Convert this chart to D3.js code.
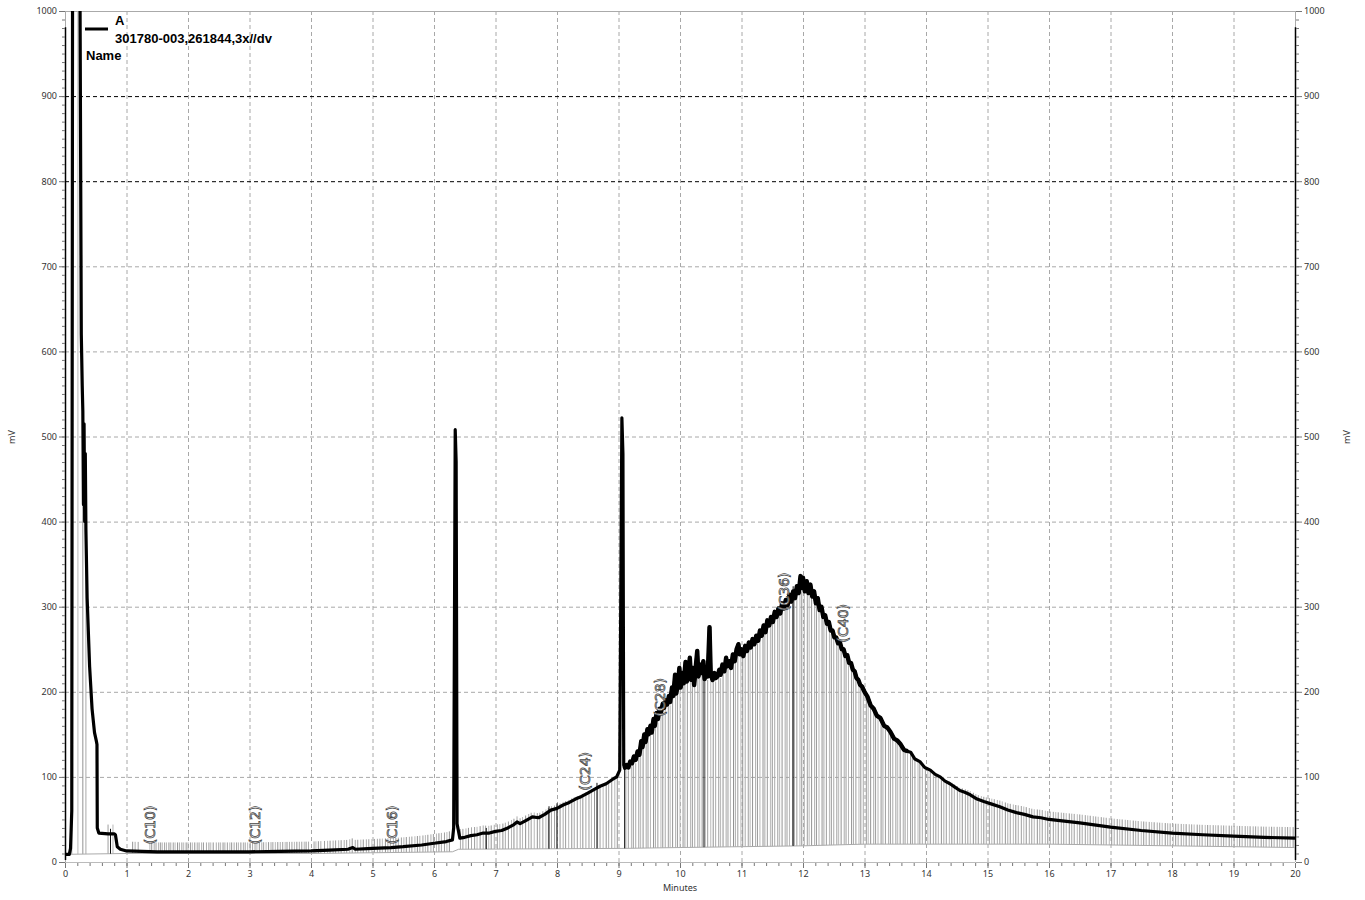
<!DOCTYPE html>
<html lang="en">
  <head>
    <meta charset="UTF-8" />
    <title>Chromatogram 301780-003</title>
    <style>
      body {
        margin: 0;
        background: #fff;
        font-family: "Noto Sans", Arial, sans-serif;
      }
      .tick text {
        font-family: "Noto Sans", Arial, sans-serif;
        font-size: 9px;
        fill: #333;
      }
      .tick line {
        stroke: #777;
      }
      .legend {
        font-family: "Liberation Sans", Arial, sans-serif;
        font-weight: bold;
        font-size: 13px;
        fill: #000;
      }
      .peak-label {
        font-family: "DejaVu Sans", sans-serif;
        font-size: 14px;
        fill: #fff;
        stroke: #444;
        stroke-width: 0.75;
      }
    </style>
  </head>
  <body>
    <div id="chart"></div>
    <script src="https://d3js.org/d3.v7.min.js"></script>
    <script>
      // trace A (minutes, mV)
      const traceT = [
        0, 0.07, 0.09, 0.11, 0.125, 0.135, 0.24, 0.245, 0.265, 0.28, 0.29, 0.3, 0.31,
        0.32, 0.33, 0.34, 0.36, 0.4, 0.44, 0.48, 0.51, 0.52, 0.525, 0.55, 0.7, 0.8,
        0.82, 0.85, 0.9, 1.0, 1.5, 2.0, 2.5, 3.0, 3.5, 4.0, 4.3, 4.6, 4.68, 4.72, 5.0,
        5.3, 5.5, 5.8, 6.0, 6.2, 6.3, 6.32, 6.345, 6.36, 6.375, 6.42, 6.5, 6.6, 6.7,
        6.8, 6.9, 7.0, 7.1, 7.2, 7.3, 7.35, 7.4, 7.5, 7.6, 7.7, 7.8, 7.9, 8.0, 8.1,
        8.2, 8.3, 8.4, 8.5, 8.6, 8.7, 8.8, 8.9, 8.97, 9.02, 9.055, 9.072, 9.085,
        9.1, 9.13, 9.16, 9.19, 9.22, 9.25, 9.28, 9.31, 9.34, 9.37, 9.39, 9.42, 9.44,
        9.47, 9.49, 9.52, 9.54, 9.57, 9.59, 9.62, 9.64, 9.67, 9.69, 9.72, 9.74, 9.77,
        9.79, 9.82, 9.84, 9.87, 9.89, 9.92, 9.94, 9.97, 9.99, 10.01, 10.04, 10.06,
        10.09, 10.11, 10.14, 10.16, 10.18, 10.21, 10.23, 10.26, 10.28, 10.3, 10.33,
        10.35, 10.38, 10.4, 10.43, 10.45, 10.48, 10.5, 10.53, 10.56, 10.58, 10.61,
        10.64, 10.66, 10.69, 10.72, 10.75, 10.77, 10.8, 10.83, 10.86, 10.89, 10.92,
        10.95, 10.97, 11.0, 11.03, 11.06, 11.09, 11.12, 11.15, 11.18, 11.21, 11.24,
        11.27, 11.3, 11.33, 11.36, 11.39, 11.42, 11.45, 11.48, 11.51, 11.54, 11.57,
        11.6, 11.63, 11.66, 11.69, 11.72, 11.75, 11.78, 11.81, 11.84, 11.87, 11.9,
        11.93, 11.96, 11.98, 12.0, 12.03, 12.06, 12.09, 12.12, 12.15, 12.18, 12.21,
        12.24, 12.27, 12.3, 12.33, 12.36, 12.39, 12.42, 12.45, 12.48, 12.51, 12.54,
        12.57, 12.6, 12.63, 12.66, 12.69, 12.72, 12.75, 12.78, 12.81, 12.84, 12.87,
        12.9, 12.93, 12.96, 13.0, 13.05, 13.1, 13.15, 13.2, 13.26, 13.32, 13.37,
        13.42, 13.48, 13.53, 13.58, 13.64, 13.7, 13.75, 13.82, 13.9, 13.98, 14.07,
        14.15, 14.23, 14.31, 14.39, 14.47, 14.55, 14.63, 14.72, 14.83, 14.94, 15.07,
        15.2, 15.33, 15.47, 15.6, 15.74, 15.87, 16.0, 16.5, 17.0, 17.5, 18.0, 18.5,
        19.0, 19.5, 20.0,
      ];
      const traceV = [
        9, 9, 16, 60, 1200, 1200, 1200, 1000, 620, 560, 530, 420, 515, 400, 480,
        390, 310, 230, 180, 152, 142, 138, 40, 34, 33, 33, 32, 18, 15, 13, 12, 12,
        12, 12, 12.5, 13, 14, 15, 17, 15, 16, 17, 18, 20, 22, 24, 26, 40, 508, 470,
        45, 28, 29, 31, 32, 34, 34, 36, 37, 40, 44, 47, 45, 49, 53, 52, 56, 61, 63,
        67, 70, 74, 77, 81, 85, 89, 92, 97, 100, 108, 522, 480, 114, 110, 114, 111,
        118, 116, 124, 120, 130, 126, 142, 135, 150, 141, 156, 150, 160, 152, 168,
        160, 175, 168, 180, 176, 186, 181, 190, 185, 195, 188, 205, 195, 220, 198,
        212, 228, 205, 222, 210, 235, 212, 226, 240, 214, 228, 208, 232, 248, 218,
        232, 222, 236, 215, 228, 218, 276, 220, 214, 222, 216, 218, 226, 220, 232,
        224, 240, 230, 236, 228, 244, 236, 250, 256, 244, 250, 242, 254, 248, 258,
        252, 262, 256, 266, 260, 272, 266, 278, 270, 284, 278, 288, 282, 294, 288,
        298, 292, 304, 298, 308, 302, 314, 306, 318, 310, 324, 316, 336, 322, 334,
        318, 330, 316, 326, 312, 318, 304, 310, 296, 300, 288, 290, 280, 282, 272,
        272, 264, 264, 257, 258, 250, 250, 242, 243, 234, 234, 226, 224, 216, 214,
        208, 206, 200, 194, 184, 180, 172, 169, 160, 158, 153, 145, 143, 139, 132,
        130, 129, 121, 118, 111, 108, 103, 100, 95, 92, 88, 84, 82, 79, 74, 71, 68,
        65, 61, 58, 56, 53, 52, 50, 46, 41, 37, 34, 32, 30.5, 29, 28,
      ];

      // gray event lines under the trace (minutes)
      const dropTimes = [
        0.11, 0.21, 0.29, 0.34, 0.7, 0.78, 1.1, 1.14, 1.19, 1.38, 1.41, 1.45, 1.48,
        1.52, 1.55, 1.58, 1.62, 1.65, 1.69, 1.72, 1.76, 1.79, 1.83, 1.86, 1.9, 1.93,
        1.97, 2.0, 2.04, 2.07, 2.11, 2.15, 2.18, 2.22, 2.25, 2.3, 2.34, 2.37, 2.41,
        2.46, 2.5, 2.53, 2.57, 2.6, 2.64, 2.68, 2.71, 2.75, 2.79, 2.82, 2.86, 2.9,
        2.93, 2.97, 3.01, 3.05, 3.09, 3.12, 3.16, 3.2, 3.23, 3.27, 3.31, 3.35, 3.38,
        3.42, 3.46, 3.5, 3.54, 3.58, 3.61, 3.65, 3.69, 3.73, 3.77, 3.81, 3.85, 3.89,
        3.92, 3.96, 4.05, 4.08, 4.12, 4.16, 4.22, 4.27, 4.31, 4.36, 4.4, 4.45, 4.49,
        4.54, 4.58, 4.63, 4.67, 4.72, 4.76, 4.81, 4.85, 4.9, 4.94, 4.99, 5.03, 5.08,
        5.12, 5.16, 5.21, 5.25, 5.29, 5.34, 5.38, 5.42, 5.47, 5.51, 5.55, 5.6, 5.64,
        5.69, 5.73, 5.77, 5.82, 5.86, 5.9, 5.95, 5.99, 6.04, 6.08, 6.12, 6.17, 6.21,
        6.25, 6.43, 6.47, 6.52, 6.56, 6.61, 6.66, 6.7, 6.75, 6.8, 6.84, 6.89, 6.93,
        6.98, 7.03, 7.07, 7.12, 7.16, 7.21, 7.26, 7.3, 7.35, 7.4, 7.44, 7.49, 7.54,
        7.58, 7.63, 7.68, 7.72, 7.77, 7.82, 7.86, 7.91, 7.96, 8.0, 8.05, 8.1, 8.14,
        8.19, 8.24, 8.28, 8.33, 8.38, 8.42, 8.47, 8.52, 8.56, 8.61, 8.66, 8.7, 8.75,
        8.8, 8.84, 8.89, 8.94, 8.98, 9.12, 9.16, 9.21, 9.24, 9.28, 9.33, 9.36, 9.4,
        9.45, 9.48, 9.52, 9.57, 9.6, 9.64, 9.69, 9.72, 9.76, 9.81, 9.84, 9.88, 9.93,
        9.96, 10.0, 10.05, 10.08, 10.12, 10.17, 10.2, 10.24, 10.29, 10.32, 10.36,
        10.41, 10.45, 10.5, 10.54, 10.58, 10.63, 10.66, 10.7, 10.75, 10.78, 10.82,
        10.87, 10.9, 10.94, 10.99, 11.02, 11.06, 11.11, 11.14, 11.18, 11.23, 11.26,
        11.3, 11.35, 11.38, 11.42, 11.47, 11.5, 11.54, 11.59, 11.62, 11.66, 11.71,
        11.74, 11.78, 11.83, 11.86, 11.9, 11.95, 11.98, 12.02, 12.07, 12.1, 12.14,
        12.19, 12.22, 12.26, 12.31, 12.34, 12.38, 12.43, 12.46, 12.5, 12.55, 12.58,
        12.62, 12.67, 12.7, 12.74, 12.79, 12.82, 12.86, 12.91, 12.94, 12.98, 13.03,
        13.06, 13.1, 13.15, 13.18, 13.22, 13.27, 13.3, 13.34, 13.39, 13.42, 13.46,
        13.51, 13.54, 13.58, 13.63, 13.66, 13.7, 13.75, 13.78, 13.82, 13.87, 13.9,
        13.94, 13.99, 14.03, 14.07, 14.12, 14.16, 14.2, 14.25, 14.29, 14.33, 14.38,
        14.42, 14.46, 14.51, 14.55, 14.59, 14.64, 14.68, 14.72, 14.77, 14.81, 14.85,
        14.9, 14.94, 14.98, 15.03, 15.07, 15.11, 15.16, 15.2, 15.24, 15.29, 15.33,
        15.37, 15.42, 15.46, 15.5, 15.55, 15.59, 15.63, 15.68, 15.72, 15.76, 15.81,
        15.85, 15.89, 15.94, 15.98, 16.02, 16.07, 16.11, 16.15, 16.2, 16.24, 16.28,
        16.33, 16.37, 16.41, 16.46, 16.5, 16.54, 16.59, 16.63, 16.67, 16.72, 16.76,
        16.8, 16.85, 16.89, 16.93, 16.98, 17.02, 17.06, 17.11, 17.15, 17.19, 17.24,
        17.28, 17.32, 17.37, 17.41, 17.45, 17.5, 17.54, 17.58, 17.63, 17.67, 17.71,
        17.76, 17.8, 17.84, 17.89, 17.93, 17.97, 18.02, 18.06, 18.1, 18.15, 18.19,
        18.23, 18.28, 18.32, 18.36, 18.41, 18.45, 18.49, 18.54, 18.58, 18.62, 18.67,
        18.71, 18.75, 18.8, 18.84, 18.88, 18.93, 18.97, 19.01, 19.06, 19.1, 19.14,
        19.19, 19.23, 19.27, 19.32, 19.36, 19.4, 19.45, 19.49, 19.53, 19.58, 19.62,
        19.66, 19.71, 19.75, 19.79, 19.84, 19.88, 19.92, 19.97,
      ];
      // a few dark event marks
      const markTimes = [0.74, 6.85, 7.87, 8.0, 8.65, 9.1, 10.39, 11.84];

      // integration baseline (minutes, mV)
      const baseT = [0, 1, 4, 6.3, 6.4, 9.1, 10, 12, 13, 16, 18, 20];
      const baseV = [9, 10, 10, 12, 15, 16, 17, 19, 21, 21, 19, 17];
      // how far the event lines reach past the trace (mV)
      const overT = [0, 6.3, 7.5, 9.0, 9.2, 12.9, 13.6, 14.5, 15.5, 20];
      const overV = [11, 11, 6, 0, -4, -4, -2, 3, 9, 13];

      // peak labels (name, minutes, mV at text start)
      const peakNames = ["(C10)", "(C12)", "(C16)", "(C24)", "(C28)", "(C36)", "(C40)"];
      const peakT = [1.38, 3.09, 5.32, 8.46, 9.67, 11.69, 12.65];
      const peakV = [21, 21, 21, 84, 171, 295, 258];

      const yMajor = [0, 100, 200, 300, 400, 500, 600, 700, 800, 900, 1000];
      const darkGrid = [800, 900];

      const width = 1365;
      const height = 900;
      const pL = 65;
      const pR = 1295;
      const pT = 11;
      const pB = 862;

      const svg = d3
        .select("#chart")
        .append("svg")
        .attr("width", width)
        .attr("height", height);

      const x = d3.scaleLinear().domain([0, 20]).range([pL, pR]);
      const y = d3.scaleLinear().domain([0, 1000]).range([pB, pT]);

      // lookups used to size the event lines
      const lerp = (ts, vs, t) => {
        const i = d3.bisectRight(ts, t);
        if (i <= 0) return vs[0];
        if (i >= ts.length) return vs[vs.length - 1];
        const f = (t - ts[i - 1]) / (ts[i] - ts[i - 1]);
        return vs[i - 1] + f * (vs[i] - vs[i - 1]);
      };

      svg
        .append("clipPath")
        .attr("id", "plot")
        .append("rect")
        .attr("x", pL)
        .attr("y", pT)
        .attr("width", pR - pL)
        .attr("height", pB - pT);

      // grid
      svg
        .append("g")
        .selectAll("line")
        .data(d3.range(1, 20))
        .join("line")
        .attr("x1", (d) => x(d) + 0.5)
        .attr("x2", (d) => x(d) + 0.5)
        .attr("y1", pT)
        .attr("y2", pB)
        .attr("stroke", "#a8a8a8")
        .attr("stroke-dasharray", "4,3");

      svg
        .append("g")
        .selectAll("line")
        .data(yMajor.slice(1, -1))
        .join("line")
        .attr("x1", pL)
        .attr("x2", pR)
        .attr("y1", (d) => y(d) + 0.5)
        .attr("y2", (d) => y(d) + 0.5)
        .attr("stroke", (d) => (darkGrid.includes(d) ? "#000" : "#a8a8a8"))
        .attr("stroke-dasharray", "4,3");

      // frame
      svg
        .append("line")
        .attr("x1", pL)
        .attr("x2", pR)
        .attr("y1", pT + 0.5)
        .attr("y2", pT + 0.5)
        .attr("stroke", "#aaa");
      svg
        .append("line")
        .attr("x1", pL)
        .attr("x2", pR)
        .attr("y1", pB + 0.5)
        .attr("y2", pB + 0.5)
        .attr("stroke", "#bbb");
      [pL, pR].forEach((px) => {
        svg
          .append("line")
          .attr("x1", px + 0.5)
          .attr("x2", px + 0.5)
          .attr("y1", pT)
          .attr("y2", pB)
          .attr("stroke", "#aaa");
        svg
          .append("line")
          .attr("x1", px + 0.5)
          .attr("x2", px + 0.5)
          .attr("y1", y(981))
          .attr("y2", y(0) - 2)
          .attr("stroke", "#000")
          .attr("stroke-width", 1.5);
      });

      const plot = svg.append("g").attr("clip-path", "url(#plot)");

      // event lines
      plot
        .append("g")
        .selectAll("line")
        .data(dropTimes)
        .join("line")
        .attr("x1", (d) => x(d))
        .attr("x2", (d) => x(d))
        .attr("y1", (d) => y(lerp(baseT, baseV, d)))
        .attr("y2", (d) => y(lerp(traceT, traceV, d) + lerp(overT, overV, d)))
        .attr("stroke", (d, i) => ["#9e9e9e", "#b8b8b8", "#939393", "#aaaaaa"][i % 4])
        .attr("stroke-width", 1);

      plot
        .append("path")
        .datum(baseT.map((t, i) => [t, baseV[i]]))
        .attr("fill", "none")
        .attr("stroke", "#aaa")
        .attr("stroke-width", 1)
        .attr("d", d3.line().x((d) => x(d[0])).y((d) => y(d[1])));

      plot
        .append("g")
        .selectAll("line")
        .data(markTimes)
        .join("line")
        .attr("x1", (d) => x(d))
        .attr("x2", (d) => x(d))
        .attr("y1", (d) => y(lerp(baseT, baseV, d)))
        .attr("y2", (d) => y(lerp(traceT, traceV, d) + 6))
        .attr("stroke", "#111")
        .attr("stroke-width", 1);

      // trace
      const trace = traceT.map((t, i) => [t, traceV[i]]);
      const line = d3
        .line()
        .x((d) => x(d[0]))
        .y((d) => y(d[1]));
      plot
        .append("path")
        .datum(trace)
        .attr("fill", "none")
        .attr("stroke", "#000")
        .attr("stroke-width", 3.2)
        .attr("stroke-linejoin", "round")
        .attr("d", line);
      // the noisy hump reads thicker
      plot
        .append("path")
        .datum(trace.filter((d) => d[0] >= 9.1 && d[0] <= 13.7))
        .attr("fill", "none")
        .attr("stroke", "#000")
        .attr("stroke-width", 4.4)
        .attr("stroke-linejoin", "round")
        .attr("d", line);

      // axes
      const fmt = d3.format("d");
      svg
        .append("g")
        .attr("transform", `translate(${pL},0)`)
        .call(d3.axisLeft(y).tickValues(yMajor).tickFormat(fmt).tickSize(6).tickPadding(2));
      svg
        .append("g")
        .attr("transform", `translate(${pL},0)`)
        .call(d3.axisLeft(y).ticks(100).tickSize(3).tickFormat(""));
      svg
        .append("g")
        .attr("transform", `translate(${pR + 1},0)`)
        .call(d3.axisRight(y).tickValues(yMajor).tickFormat(fmt).tickSize(6).tickPadding(2));
      svg
        .append("g")
        .attr("transform", `translate(${pR + 1},0)`)
        .call(d3.axisRight(y).ticks(100).tickSize(3).tickFormat(""));
      svg
        .append("g")
        .attr("transform", `translate(0,${pB + 1})`)
        .call(d3.axisBottom(x).ticks(20).tickSize(5).tickPadding(3));
      svg
        .append("g")
        .attr("transform", `translate(0,${pB + 1})`)
        .call(d3.axisBottom(x).ticks(100).tickSize(3).tickFormat(""));
      svg.selectAll(".domain").remove();

      svg
        .append("text")
        .attr("x", (pL + pR) / 2)
        .attr("y", 891)
        .attr("text-anchor", "middle")
        .attr("font-size", 9)
        .attr("fill", "#333")
        .text("Minutes");
      [15, 1350].forEach((px) => {
        svg
          .append("text")
          .attr("transform", `translate(${px},437) rotate(-90)`)
          .attr("text-anchor", "middle")
          .attr("font-size", 9)
          .attr("fill", "#333")
          .text("mV");
      });

      // peak labels
      svg
        .append("g")
        .selectAll("text")
        .data(peakNames)
        .join("text")
        .attr("class", "peak-label")
        .attr(
          "transform",
          (d, i) => `translate(${x(peakT[i]) + 5},${y(peakV[i])}) rotate(-90)`
        )
        .text((d) => d);

      // legend
      svg
        .append("line")
        .attr("x1", 85)
        .attr("x2", 108)
        .attr("y1", 29)
        .attr("y2", 29)
        .attr("stroke", "#000")
        .attr("stroke-width", 3);
      svg.append("text").attr("class", "legend").attr("x", 115).attr("y", 25).text("A");
      svg
        .append("text")
        .attr("class", "legend")
        .attr("x", 115)
        .attr("y", 43)
        .text("301780-003,261844,3x//dv");
      svg.append("text").attr("class", "legend").attr("x", 86).attr("y", 60).text("Name");
    </script>
  </body>
</html>
